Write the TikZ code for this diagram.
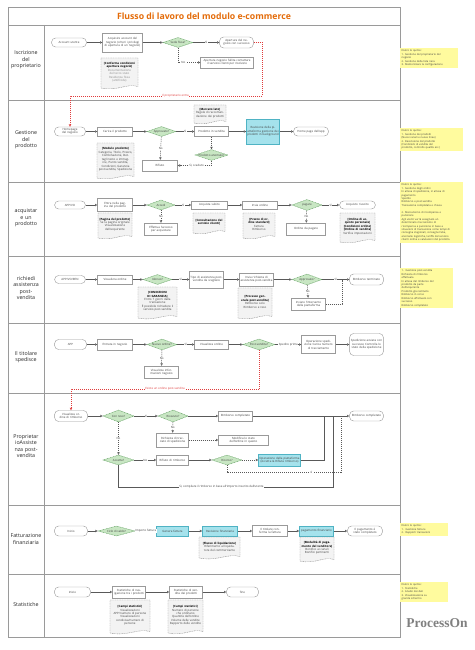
\documentclass[tikz,border=0pt]{standalone}
\usepackage{fontspec}
\setmainfont{Open Sans}
\newfontfamily\logofont{Liberation Serif}
\usetikzlibrary{shapes.geometric,arrows.meta,calc}
\definecolor{lineg}{HTML}{9A9A9A}
\definecolor{connc}{HTML}{595959}
\definecolor{txtg}{HTML}{404040}
\definecolor{ltxt}{HTML}{8A8A8A}
\definecolor{dgreen}{HTML}{5E9E5E}
\definecolor{lgreen}{HTML}{C8E6C3}
\definecolor{cyanf}{HTML}{A5E2EC}
\definecolor{cyand}{HTML}{4FB3C4}
\definecolor{docf}{HTML}{F3F3F3}
\definecolor{docd}{HTML}{8C8C8C}
\definecolor{notef}{HTML}{FFFB9E}
\definecolor{titleo}{HTML}{E46C0A}
\definecolor{redl}{HTML}{E03C3C}
\tikzset{
 fs/.style={font=\fontsize{2.9}{3.45}\selectfont},
 wh/.style 2 args={minimum width=#1pt, minimum height=#2pt, text width=#1pt},
 dwh/.style 2 args={minimum width=#1pt, minimum height=#2pt},
 basebox/.style={fs, text=txtg, inner xsep=0.4pt, inner ysep=0pt, align=center},
 proc/.style={basebox, draw=lineg, fill=white, line width=0.4pt},
 termbox/.style={proc, rounded corners=4pt},
 cyanbox/.style={basebox, draw=cyand, fill=cyanf, line width=0.5pt},
 dec/.style={fs, text=txtg, align=center, diamond, draw=dgreen, fill=lgreen, dash pattern=on 1pt off 0.6pt, line width=0.4pt, inner sep=0pt, aspect=3},
 conn/.style={draw=connc, line width=0.45pt, -{Triangle[open,length=2.4pt,width=2.4pt]}},
 dconn/.style={conn, dash pattern=on 1.2pt off 0.8pt},
 plainc/.style={draw=connc, line width=0.45pt},
 dplainc/.style={plainc, dash pattern=on 1.2pt off 0.8pt},
 redc/.style={draw=redl, line width=0.45pt, dash pattern=on 1.2pt off 0.8pt},
 reda/.style={redc, -{Triangle[open,length=2.4pt,width=2.4pt]}},
 lab/.style={fs, text=txtg, fill=white, inner sep=0.3pt},
 redlab/.style={fs, text=redl, fill=white, inner sep=0.3pt},
 docst/.style={draw=docd, fill=docf, line width=0.4pt, dash pattern=on 1pt off 0.7pt},
 doctxt/.style={fs, text=black, align=center, inner sep=0pt},
 notebox/.style={font=\fontsize{2.6}{3.45}\selectfont, fill=notef, text=txtg, align=left, anchor=north west, inner xsep=1.5pt, inner ysep=1.5pt, text width=#1pt},
 lanel/.style={font=\fontsize{5.3}{6.6}\selectfont, text=black!85, align=center, text width=35pt},
 sep/.style={draw=lineg, line width=0.6pt},
}
\newcommand{\subt}[1]{{\color{txtg}#1}}
\newcommand{\mkdoc}[6]{%
  \pgfmathsetmacro\mkdocw{#4-#2-2}%
  \pgfmathsetmacro\mkdocx{(#2+#4)/2}%
  \pgfmathsetmacro\mkdocy{(#3+#5)/2-1}%
  \path[docst] (#2,#3) -- (#4,#3) -- (#4,{#5-1.5}) .. controls ({#4-0.3*(#4-#2)},{#5-5}) and ({#2+0.45*(#4-#2)},{#5+3.5}) .. (#2,{#5}) -- cycle;
  \node[doctxt, text width=\mkdocw pt] (#1) at (\mkdocx,\mkdocy) {#6};
}
\begin{document}
\begin{tikzpicture}[x=1pt,y=-1pt]
\useasboundingbox[fill=white] (0,0) rectangle (474,650);
% frame
\draw[sep] (8,7) rectangle (400,637);
\draw[sep] (8,25) -- (400,25);
\draw[sep] (44,25) -- (44,637);
\foreach \yy in {100,182,256,323,393,505,574} \draw[sep] (8,\yy) -- (400,\yy);
\node[font=\fontsize{8.7}{9}\selectfont\bfseries, text=titleo] (title) at (204,16) {Flusso di lavoro del modulo e-commerce};
% lane labels
\node[lanel] (l1) at (26,60) {Iscrizione\\del\\proprietario};
\node[lanel] (l2) at (26,140) {Gestione\\del\\prodotto};
\node[lanel] (l3) at (26,218) {acquistar\\e un\\prodotto};
\node[lanel] (l4) at (26,288) {richiedi\\assistenza\\post-\\vendita};
\node[lanel] (l5) at (26,357) {Il titolare\\spedisce};
\node[lanel] (l6) at (26,446) {Proprietar\\ioAssiste\\nza post-\\vendita};
\node[lanel] (l7) at (26,539) {Fatturazione\\finanziaria};
\node[lanel] (l8) at (26,605) {Statistiche};

% ---------- lane 1
\node[termbox, wh={34}{9}] (acc) at (69,42.5) {Account utente};
\node[proc, wh={39}{19}] (acq) at (122.5,42.5) {Acquisire account del negozio (criteri i privilegi di apertura di un negozio)};
\node[dec, dwh={30}{10}] (d1) at (178,42.5) {Sede fissa?};
\node[termbox, wh={33}{11}] (succ) at (236.5,42.5) {Apertura del negozio con successo};
\node[proc, wh={52}{11}] (fail) at (227,62.5) {Apertura negozio fallita contattare il servizio clienti per risolvere};
\mkdoc{doca}{101}{58}{138}{88}{\textbf{[Conferma condizioni apertura negozio]}\\[0.4pt]{\color{ltxt}Documentazione del terzo stato\\Residenza fissa\\(antifrode)}}
\draw[conn] (acc) -- (acq);
\draw[conn] (acq) -- (d1);
\draw[conn] (d1) -- node[lab]{Sì} (succ);
\draw[dconn] (d1.south) |- node[lab, pos=0.62]{No} (fail.west);

% ---------- lane 2
\node[termbox, wh={30}{9}] (hp) at (70,131.5) {Homepage del negozio};
\node[proc, wh={34}{9}] (car) at (115,131.5) {Carica il prodotto};
\node[dec, dwh={29}{10}] (d2) at (161.5,131.5) {Approvato?};
\node[proc, wh={33}{10}] (pv) at (211.5,131.5) {Prodotto in vendita};
\node[cyanbox, wh={32}{25}] (rev) at (263,131.5) {Revisione della piattaforma gestione dei prodotti in background};
\node[termbox, wh={34}{9}] (appw) at (311,131.5) {Home page dell'app};
\mkdoc{docb}{194}{105}{226}{123}{\textbf{[Mercato lato]}\\\subt{Regole di raccomandazione dei prodotti}}
\mkdoc{docc}{97}{143}{134}{178}{\textbf{[Modulo prodotto]}\\\subt{Categoria, Titolo, Prezzo, Combinazione, Dettagli testo e immagine, Punto vendita, Condizioni, Garanzia post-vendita, Spedizione}}
\node[proc, wh={34}{11}] (rif) at (160,165.5) {Rifiuto};
\node[dec, dwh={33}{10}] (d2b) at (211.5,155) {Prodotto anomalo?};
\draw[conn] (hp) -- (car);
\draw[conn] (car) -- (d2);
\draw[conn] (d2) -- node[lab]{Sì} (pv);
\draw[conn] (pv) -- (rev);
\draw[conn] (rev) -- (appw);
\draw[dconn] (d2) -- node[lab]{No} (rif);
\draw[dconn] (pv) -- (d2b);
\draw[dconn] (d2b.south) |- node[lab, pos=0.72]{Sì, scaduto} (rif.east);
% red connector lane 1 -> 2
\coordinate (r1a) at (262,42.5);
\coordinate (r1b) at (262,96);
\coordinate (r1c) at (70,96);
\draw[redc] (succ.east) -- (r1a) -- (r1b);
\draw[reda] (r1b) -- node[redlab, pos=0.45]{Il proprietario entra} (r1c) -- (hp.north);

% ---------- lane 3
\node[termbox, wh={30}{8}] (appvo) at (70,205) {APP/VO};
\node[proc, wh={34}{13}] (entra) at (115,205) {Entra nella pagina del prodotto};
\mkdoc{docd}{98}{213}{132}{238}{\textbf{[Pagina del prodotto]}\\\subt{Se la pagina originale\\Visualizzazione\\dell'acquirente}}
\node[dec, dwh={28}{10}] (d3) at (161,205) {Accedi};
\node[proc, wh={35}{8}] (acqs) at (209.5,205) {Acquista subito};
\node[proc, wh={32}{12}] (login) at (161,229) {Effettua l'accesso per acquistare};
\mkdoc{doce}{193}{213}{225}{233}{\textbf{[Consultazione del servizio clienti]}}
\node[proc, wh={34}{8}] (inv) at (260,205) {Invia ordine};
\mkdoc{docf}{243}{213}{275}{238}{\textbf{[Prezzo di ordine standard]}\\\subt{Fattura\\Rimborso}}
\node[dec, dwh={30}{11}] (d3b) at (307,205) {pagare};
\node[termbox, wh={35}{8}] (riu) at (357.5,205) {Acquisto riuscito};
\node[proc, wh={38}{12}] (odp) at (306,229) {Ordine da pagare};
\mkdoc{docg}{340}{213}{375}{242}{\textbf{[Ordine di acquisto personale]\\{}[Condizioni ordine]\\{}[Ordine di vendita]}\\\subt{Verifica impostazioni}}
\draw[conn] (appvo) -- (entra);
\draw[conn] (entra) -- (d3);
\draw[conn] (d3) -- node[lab]{Sì} (acqs);
\draw[dconn] (d3) -- node[lab]{No} (login);
\draw[conn] (acqs) -- (inv);
\draw[conn] (inv) -- (d3b);
\draw[conn] (d3b) -- node[lab]{Sì} (riu);
\draw[dconn] (d3b) -- node[lab]{No} (odp);

% ---------- lane 4
\node[termbox, wh={30}{8}] (appr) at (70,279.5) {APP/VO/REN};
\node[proc, wh={34}{9}] (vis4) at (115,279.5) {Visualizza ordine};
\node[dec, dwh={29}{10}] (d4) at (157.5,279.5) {Idoneo?};
\mkdoc{doch}{138}{287}{177}{318}{\textbf{[CONDIZIONI DI GARANZIA]}\\\subt{Entro 7 giorni dalla\\transazione\\È possibile richiedere il\\servizio post-vendita}}
\node[proc, wh={33}{17}] (tipo) at (206.5,279.5) {Tipo di assistenza post-vendita da scegliere};
\node[proc, wh={33}{13}] (invr) at (256.5,279.5) {Invia richiesta di assistenza post-vendita};
\mkdoc{doci}{238}{288}{272}{318}{\textbf{[Processo generale post-vendita]}\\\subt{Rimborso solo\\Rimborso e reso}}
\node[dec, dwh={30}{11}] (d4b) at (307,279.5) {Approvato?};
\node[termbox, wh={33}{11}] (term4) at (366.5,279.5) {Rimborso terminato};
\node[proc, wh={33}{12}] (interv) at (308.5,304) {Inviare l'intervento della piattaforma};
\coordinate (j4) at (342,279.5);
\draw[conn] (appr) -- (vis4);
\draw[conn] (vis4) -- (d4);
\draw[conn] (d4) -- node[lab]{Sì} (tipo);
\draw[conn] (tipo) -- (invr);
\draw[conn] (invr) -- (d4b);
\draw[conn] (d4b) -- node[lab]{Sì} (term4);
\draw[dconn] (d4b) -- node[lab]{No} (interv);
\draw[dplainc] (interv.east) -| (j4);

% ---------- lane 5
\node[termbox, wh={31}{10}] (app5) at (70.5,344.5) {APP};
\node[proc, wh={34}{11}] (ent5) at (115,344.5) {Entrata in negozio};
\node[dec, dwh={30}{11}] (d5) at (162,344.5) {Nuovo ordine?};
\node[proc, wh={33}{12}] (vinf) at (161.5,372) {Visualizza informazioni negozio};
\node[proc, wh={33}{9}] (vis5) at (211.5,344.5) {Visualizza ordine};
\node[dec, dwh={32}{11}] (d5b) at (259,344.5) {Post-vendita?};
\node[proc, wh={33}{18}] (ops) at (318.5,344.5) {Operazione spedizione Carica numero di tracciamento};
\node[termbox, wh={33}{22}] (sped) at (366.5,344.5) {Spedizione avviata con successo Controlla lo stato della spedizione};
\draw[conn] (app5) -- (ent5);
\draw[conn] (ent5) -- (d5);
\draw[conn] (d5) -- node[lab]{Sì} (vis5);
\draw[dconn] (d5) -- node[lab]{No} (vinf);
\draw[conn] (vis5) -- (d5b);
\draw[conn] (d5b) -- node[lab]{Spedire prima} (ops);
\draw[conn] (ops) -- (sped);

% ---------- lane 6
\node[termbox, wh={32}{11}] (rord) at (71,416) {Visualizza ordine di rimborso};
\node[dec, dwh={31}{12}] (d6a) at (118.5,416) {Con reso?};
\node[dec, dwh={30}{12}] (d6b) at (173,416) {Ricevuto?};
\node[proc, wh={33}{10}] (rc) at (235.5,416) {Rimborso completato};
\node[termbox, wh={33}{10}] (rfin) at (366.5,416) {Rimborso completato};
\node[proc, wh={31}{14}] (trac) at (172.5,440) {Richiesta di tracciato di spedizione};
\node[proc, wh={49}{10}] (modst) at (243.5,440) {Modifica lo stato dell'ordine in questo};
\node[dec, dwh={31}{10}] (d6c) at (118.5,460) {Accetta?};
\node[proc, wh={31}{10}] (rifr) at (172.5,460) {Rifiuto di rimborso};
\node[dec, dwh={30}{10}] (d6d) at (227,460) {Ricorso?};
\node[cyanbox, wh={41}{12}] (opp) at (279.5,460) {Operazione della piattaforma (Accetta \& Rifiuta rimborso)};
\coordinate (j6a) at (324,416);
\coordinate (j6b) at (341,416);
\coordinate (j6c) at (333,416);
\coordinate (k6b) at (341,472);
\coordinate (k6c) at (333,487);
\draw[conn] (rord) -- (d6a);
\draw[conn] (d6a) -- node[lab]{Sì} (d6b);
\draw[conn] (d6b) -- (rc);
\draw[conn] (rc) -- (rfin);
\draw[dconn] (d6b) -- node[lab]{No} (trac);
\draw[dconn] (trac) -- (modst);
\draw[dconn] (d6a) -- node[lab]{No} (d6c);
\draw[conn] (d6c) -- node[lab]{No} (rifr);
\draw[conn] (rifr) -- (d6d);
\draw[dconn] (d6d) -- (opp);
\draw[plainc] (opp.east) -| (j6a);
\draw[dplainc] (d6d.south) |- node[lab, pos=0.87]{sì} (k6b) -- (j6b);
\draw[plainc] (d6c.south) |- node[lab, pos=0.74]{Sì, compilare il rimborso in base all'importo inserito dall'utente} (k6c) -- (j6c);
% red connector lane 5 -> 6
\coordinate (r5a) at (259,389);
\coordinate (r5b) at (71,389);
\draw[redc] (d5b.south) -- (r5a);
\draw[reda] (r5a) -- node[redlab, pos=0.5]{Esiste un ordine post-vendita} (r5b) -- (rord.north);

% ---------- lane 7
\node[termbox, wh={32}{10}] (ini7) at (71,531) {Inizio};
\node[dec, dwh={37}{10}] (d7) at (116.5,531) {Ciclo di saldo?};
\node[cyanbox, wh={31}{10}] (gen) at (172.5,531) {Genera fattura};
\node[cyanbox, wh={34}{10}] (revf) at (220,531) {Revisione finanziaria};
\mkdoc{docj}{199}{537}{240}{558}{\textbf{[Flusso di liquidazione]}\\\subt{Riferimento al liquidatore del commerciante}}
\node[proc, wh={34}{11}] (conf) at (270,531) {Il titolare conferma la fattura};
\node[cyanbox, wh={33}{10}] (pagf) at (316.5,531) {pagamento finanziario};
\mkdoc{dock}{300}{537}{334}{561}{\textbf{[Modalità di pagamento del venditore]}\\\subt{Bonifico ai canali\\Bonifici pertinenti}}
\node[termbox, wh={34}{10}] (pagc) at (365,531) {Il pagamento è stato completato};
\draw[conn] (ini7) -- (d7);
\draw[conn] (d7) -- node[lab]{Importo fattura} (gen);
\draw[conn] (gen) -- (revf);
\draw[conn] (revf) -- (conf);
\draw[conn] (conf) -- (pagf);
\draw[conn] (pagf) -- (pagc);

% ---------- lane 8
\node[termbox, wh={35}{10}] (ini8) at (72.5,592) {Inizio};
\node[proc, wh={32}{12}] (stn) at (129,592) {Statistiche di navigazione tra i prodotti};
\mkdoc{docl}{110}{600}{150}{633}{\textbf{[Campi statistici]}\\\subt{Visualizzazioni\\APP/numero di persone\\Visualizzazioni\\condivise/numero di\\persone}}
\node[proc, wh={32}{12}] (stv) at (186,592) {Statistiche di vendita dei prodotti};
\mkdoc{docm}{168}{600}{203}{633}{\textbf{[Campi statistici]}\\\subt{Numero di persone\\che ordinano\\Quantità dell'ordine\\Volume delle vendite\\Rapporto delle vendite}}
\node[termbox, wh={31}{10}] (fine) at (242.5,592) {fine};
\draw[conn] (ini8) -- (stn);
\draw[conn] (stn) -- (stv);
\draw[conn] (stv) -- (fine);

% ---------- notes
\node[notebox=55] (n1) at (400,48) {Dietro le quinte:\\1. Gestione del proprietario del\\negozio\\2. Gestione della lista nera\\3. Memorizzare la configurazione};
\node[notebox=60] (n2) at (400,128) {Dietro le quinte:\\1. Gestione dei prodotti\\(Nuovi canali e nuove linee)\\2. Recensione del prodotto\\(Condizioni di vendita del\\prodotto, controllo qualità ecc.)};
\node[notebox=60] (n3) at (400,182) {Dietro le quinte:\\1. Gestione degli ordini\\In attesa di spedizione, in attesa di\\pagamento\\Spedito\\Rimborso e post-vendita\\Transazione completata e chiusa\\[3.45pt]2. Meccanismo di ricompensa e\\punizione\\Agli utenti verrà assegnato un\\determinato meccanismo di\\ricompensa e punizione in base a\\situazioni di transazione come tempi di\\consegna stagionali, consegne false,\\anomalie logistiche, tariffe del servizio\\clienti online e valutazioni del prodotto.};
\node[notebox=50] (n4) at (400,268) {1.\ \ Gestione post-vendita\\Richiesta di rimborso\\effettuata\\In attesa del rimborso del\\prodotto da parte\\dell'acquirente\\Prodotto già restituito\\Rimborso in corso\\Rimborso effettuato con\\successo\\Rimborso completato};
\node[notebox=45] (n5) at (400,523) {Dietro le quinte:\\1.\ \ Gestione fatture\\2.\ \ Rapporti transazioni};
\node[notebox=45] (n6) at (400,582) {Dietro le quinte:\\1. Statistiche\\2. Analisi dei dati\\3. Visualizzazione su\\grande schermo};

\node[font=\logofont\bfseries\fontsize{13.5}{14}\selectfont, text=black!50] (logo) at (437,623) {ProcessOn};
\end{tikzpicture}
\end{document}
